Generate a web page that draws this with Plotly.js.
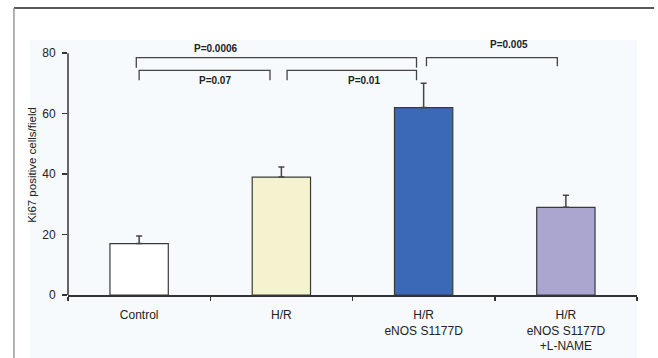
<!DOCTYPE html>
<html>
<head>
<meta charset="utf-8">
<script src="https://cdn.plot.ly/plotly-3.0.1.min.js"></script>
<style>html,body{margin:0;padding:0;background:#fff;}#chart{width:658px;height:358px;}</style>
</head>
<body>
<div id="chart"></div>
<script>
// ---- data ----
const categories = ["Control", "H/R", "H/R<br>eNOS S1177D", "H/R<br>eNOS S1177D<br>+L-NAME"];
const values = [17, 39, 62, 29];
const errors = [2.5, 3.3, 8, 4];
const barColors = ["#ffffff", "#f4f2cf", "#3c68b8", "#aaa6d0"];
const yTicks = [0, 20, 40, 60, 80];

// significance brackets (category index positions, y in data units)
const pLabels = ["P=0.0006", "P=0.07", "P=0.01", "P=0.005"];
const bracketX0 = [-0.02, 0.0, 1.04, 2.02];
const bracketX1 = [1.95, 0.92, 1.95, 2.94];
const bracketTop = [78.5, 74.3, 74.3, 78.5];
const bracketBottom = [75.2, 71.0, 71.0, 75.7];
const labelX = [0.54, 0.53, 1.58, 2.6];
const labelY = [81.4, 71.0, 71.0, 82.7];

const trace = {
  type: "bar",
  x: categories,
  y: values,
  marker: {color: barColors, line: {color: "#3a3a3a", width: 1.2}},
  error_y: {type: "data", symmetric: false, array: errors, arrayminus: errors.map(() => 0),
            color: "#444", thickness: 1.5, width: 3},
  hoverinfo: "skip"
};

const shapes = [];
// page frame & light tint (layout decoration)
shapes.push({type: "rect", xref: "paper", yref: "paper", x0: -0.067, x1: 1.0, y0: -0.25, y1: 0.981,
             fillcolor: "#f7fafd", line: {width: 0}, layer: "below"});
shapes.push({type: "line", xref: "paper", yref: "paper", x0: -0.095, x1: 1.03, y0: 1.104, y1: 1.104,
             line: {color: "#222", width: 1.5}});
shapes.push({type: "line", xref: "paper", yref: "paper", x0: -0.095, x1: -0.095, y0: 1.104, y1: -0.25,
             line: {color: "#999", width: 1.5}});
// y axis line from 0 to 80
shapes.push({type: "line", xref: "paper", yref: "y", x0: 0, x1: 0, y0: 0, y1: yTicks[yTicks.length - 1],
             line: {color: "#333", width: 1.5}});
// brackets
for (let i = 0; i < pLabels.length; i++) {
  shapes.push({type: "path", xref: "x", yref: "y",
    path: `M ${bracketX0[i]} ${bracketBottom[i]} L ${bracketX0[i]} ${bracketTop[i]} L ${bracketX1[i]} ${bracketTop[i]} L ${bracketX1[i]} ${bracketBottom[i]}`,
    line: {color: "#444", width: 1.3}});
}

const annotations = pLabels.map((t, i) => ({
  x: labelX[i], y: labelY[i], xref: "x", yref: "y", text: "<b>" + t + "</b>",
  showarrow: false, font: {family: "Liberation Sans, Arial, sans-serif", size: 10, color: "#222"}
}));

const layout = {
  width: 658, height: 358,
  margin: {l: 68, r: 21, t: 35, b: 63},
  paper_bgcolor: "#ffffff",
  plot_bgcolor: "rgba(0,0,0,0)",
  bargap: 0.59,
  showlegend: false,
  font: {family: "Liberation Sans, Arial, sans-serif", color: "#222"},
  xaxis: {
    type: "category", range: [-0.5, 3.5],
    showline: true, linecolor: "#333", linewidth: 1.5,
    ticks: "outside", tickson: "boundaries", ticklen: 4, tickcolor: "#333", tickwidth: 1.5,
    ticklabelstandoff: 8,
    tickfont: {size: 12, color: "#222"}, showgrid: false, zeroline: false,
    fixedrange: true
  },
  yaxis: {
    range: [0, 86], tickvals: yTicks, ticktext: yTicks.map(String),
    showline: false, ticks: "outside", ticklen: 5, tickcolor: "#333", tickwidth: 1.5,
    ticklabelstandoff: 4,
    tickfont: {size: 12, color: "#222"}, showgrid: false, zeroline: false,
    title: {text: "Ki67 positive cells/field", font: {size: 11.5, color: "#222"}, standoff: 3},
    fixedrange: true
  },
  shapes: shapes,
  annotations: annotations
};

Plotly.newPlot("chart", [trace], layout, {displayModeBar: false, staticPlot: true});
</script>
</body>
</html>
